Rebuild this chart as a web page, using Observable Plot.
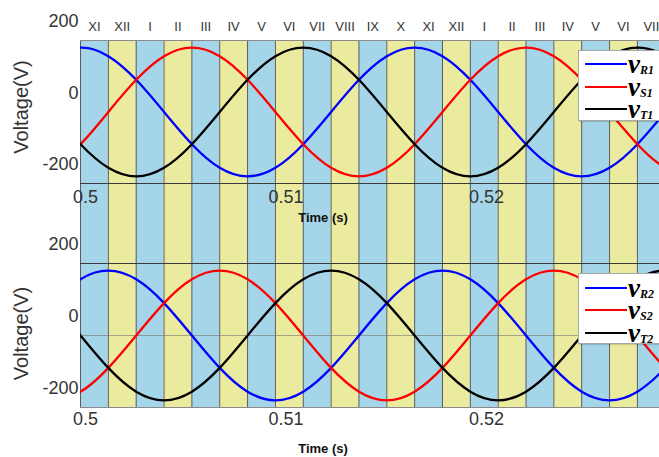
<!DOCTYPE html>
<html><head><meta charset="utf-8">
<script src="https://cdn.jsdelivr.net/npm/d3@7"></script>
<script src="https://cdn.jsdelivr.net/npm/@observablehq/plot@0.6"></script>
<style>
body{margin:0;background:#fff;}
#chart{position:relative;width:659px;height:457px;overflow:hidden;background:#fff;font-family:"Liberation Sans",Arial,sans-serif;}
#chart svg{position:absolute;left:0;}
.legend{position:absolute;left:578px;width:100px;height:71px;background:#fff;border:1px solid #a8a8a8;box-sizing:border-box;box-shadow:1px 1px 1px rgba(0,0,0,0.15);}
.row{position:absolute;left:6px;height:20px;display:flex;align-items:center;}
.row .ln{width:42px;height:2.5px;}
.row .lb{font-family:"Liberation Serif",serif;font-style:italic;font-weight:bold;font-size:27px;color:#000;margin-left:1px;line-height:20px;white-space:nowrap;}
.row .lb sub{font-size:12px;line-height:12px;vertical-align:baseline;position:relative;top:1px;}
</style></head><body><div id="chart"></div><script>
// sector boundaries (s) and roman-numeral sector labels
const sectorBounds = [0.5, 0.501389, 0.502778, 0.504167, 0.505556, 0.506944, 0.508333, 0.509722, 0.511111, 0.5125, 0.513889,
  0.515278, 0.516667, 0.518056, 0.519444, 0.520833, 0.522222, 0.523611, 0.525, 0.526389, 0.527778, 0.529167];
const sectorLabels = ["XI","XII","I","II","III","IV","V","VI","VII","VIII","IX","X","XI","XII","I","II","III","IV","V","VI","VII"];
// waveform sample times (s)
const waveTime = [0.498611, 0.5, 0.501389, 0.502778, 0.504167, 0.505556, 0.506944, 0.508333, 0.509722, 0.511111, 0.5125, 0.513889,
  0.515278, 0.516667, 0.518056, 0.519444, 0.520833, 0.522222, 0.523611, 0.525, 0.526389, 0.527778, 0.529167, 0.530556];
// upper panel voltages (V)
const vR1 = [156,180,156,90,0,-90,-156,-180,-156,-90,0,90,156,180,156,90,0,-90,-156,-180,-156,-90,0,90];
const vS1 = [-156,-90,0,90,156,180,156,90,0,-90,-156,-180,-156,-90,0,90,156,180,156,90,0,-90,-156,-180];
const vT1 = [0,-90,-156,-180,-156,-90,0,90,156,180,156,90,0,-90,-156,-180,-156,-90,0,90,156,180,156,90];
// lower panel voltages (V)
const vR2 = [90,156,180,156,90,0,-90,-156,-180,-156,-90,0,90,156,180,156,90,0,-90,-156,-180,-156,-90,0];
const vS2 = [-180,-156,-90,0,90,156,180,156,90,0,-90,-156,-180,-156,-90,0,90,156,180,156,90,0,-90,-156];
const vT2 = [90,0,-90,-156,-180,-156,-90,0,90,156,180,156,90,0,-90,-156,-180,-156,-90,0,90,156,180,156];
const xTicks = [0.5, 0.51, 0.52];
const yTicks = [-200, 0, 200];
const seriesColors = ["#0000ff", "#ff0000", "#000000"];
const legendTop = [["R1"],["S1"],["T1"]];
const legendBottom = [["R2"],["S2"],["T2"]];

const W = 659, ML = 80;
const xDomain = [0.5, 0.52888];
const chart = document.getElementById("chart");
const baseStyle = {background: "transparent", fontFamily: "'Liberation Sans', Arial, sans-serif", overflow: "visible"};

// background stripes + sector labels
const sectors = sectorLabels.map((s, i) => ({x1: sectorBounds[i], x2: sectorBounds[i + 1], label: s, fill: i % 2 ? "#ebeba0" : "#a5d5e8"}));
const bgPlot = Plot.plot({
  width: W, height: 457, marginLeft: ML, marginRight: 0, marginTop: 40, marginBottom: 50,
  x: {domain: xDomain, axis: null},
  style: baseStyle,
  marks: [
    Plot.rect(sectors, {x1: "x1", x2: "x2", fill: "fill", clip: true}),
    Plot.ruleX(sectorBounds, {stroke: "#5c5c5c", strokeWidth: 1, clip: true}),
    Plot.text(sectors, {x: d => (d.x1 + d.x2) / 2, text: "label", frameAnchor: "top", lineAnchor: "middle", dy: -14, fontSize: 13, fill: "#333"})
  ]
});
bgPlot.style.top = "0px";
chart.appendChild(bgPlot);

function panel(vals, opts) {
  const data = [];
  vals.forEach((arr, si) => arr.forEach((v, i) => data.push({t: waveTime[i], v, s: seriesColors[si]})));
  return Plot.plot({
    width: W, height: opts.height, marginLeft: ML, marginRight: 0, marginTop: 40, marginBottom: opts.mb,
    x: {domain: xDomain}, y: {domain: [-200, 200]},
    style: baseStyle,
    marks: [
      ...opts.rules,
      Plot.line(data, {x: "t", y: "v", z: "s", stroke: "s", strokeWidth: 2.3, curve: "natural", clip: true}),
      Plot.axisX({ticks: xTicks, tickSize: 0, tickPadding: opts.xpad, dx: 5, fontSize: 18, color: "#333", tickFormat: d => String(d), label: null}),
      Plot.axisY({ticks: yTicks, tickSize: 0, tickPadding: 2, dy: -19, fontSize: 18, color: "#333", tickFormat: d => String(d), label: null}),
      Plot.text(["Voltage(V)"], {text: d => d, frameAnchor: "left", textAnchor: "middle", lineAnchor: "middle", dx: -59, dy: opts.ldy, rotate: -90, fontSize: 20, fill: "#333"}),
      Plot.text(["Time (s)"], {text: d => d, frameAnchor: "bottom", textAnchor: "middle", lineAnchor: "middle", dx: -47, dy: opts.tdy, fontSize: 13, fontWeight: "bold", fill: "#111"})
    ]
  });
}

const topPlot = panel([vR1, vS1, vT1], {height: 230, mb: 47, xpad: 7, ldy: -5, tdy: 34,
  rules: [Plot.ruleY([200], {stroke: "#8a8a8a", strokeWidth: 1}), Plot.ruleY([-200], {stroke: "#3a3a3a", strokeWidth: 1.2})]});
topPlot.style.top = "0px";
chart.appendChild(topPlot);

const bottomPlot = panel([vR2, vS2, vT2], {height: 234, mb: 50, xpad: 5, ldy: -2, tdy: 41,
  rules: [Plot.ruleY([200], {stroke: "#3a3a3a", strokeWidth: 1.2}), Plot.ruleY([0], {stroke: "#777", strokeOpacity: 0.6, strokeWidth: 1}), Plot.ruleY([-200], {stroke: "#8a8a8a", strokeWidth: 1})]});
bottomPlot.style.top = "223px";
chart.appendChild(bottomPlot);

function legend(topPx, labels, rowTops) {
  const box = document.createElement("div");
  box.className = "legend";
  box.style.top = topPx + "px";
  labels.forEach((l, i) => {
    const row = document.createElement("div");
    row.className = "row";
    row.style.top = rowTops[i] + "px";
    row.innerHTML = `<span class="ln" style="background:${seriesColors[i]}"></span><span class="lb">v<sub>${l[0]}</sub></span>`;
    box.appendChild(row);
  });
  chart.appendChild(box);
}
legend(50, legendTop, [3, 26, 48]);
legend(273, legendBottom, [4, 26, 49]);
</script></body></html>
